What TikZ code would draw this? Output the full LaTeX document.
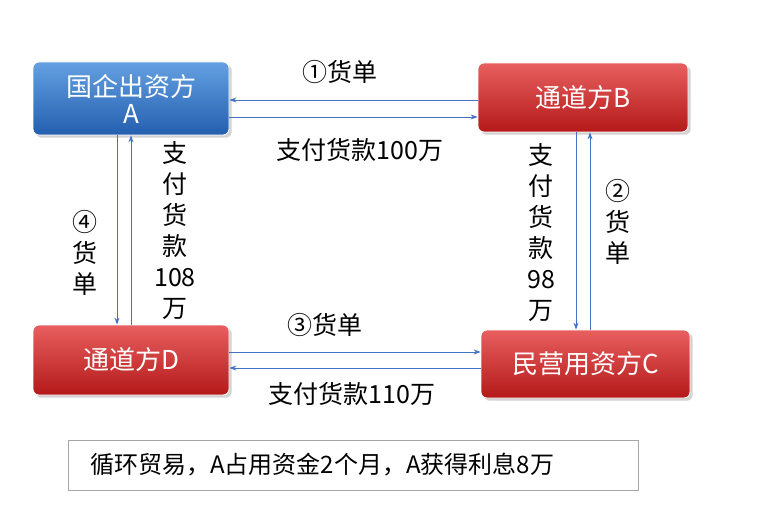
\documentclass[tikz,border=0pt]{standalone}
\usepackage{fontspec}
\setmainfont{Noto Sans CJK SC}
\usetikzlibrary{arrows.meta,shadows}
\definecolor{arr}{RGB}{68,114,196}
\definecolor{rtop}{RGB}{232,95,95}
\definecolor{rbot}{RGB}{180,25,25}
\definecolor{btop}{RGB}{100,160,225}
\definecolor{bbot}{RGB}{35,95,175}
\tikzset{
 box/.style={rounded corners=6pt, draw=white, line width=0.8pt, text=white, align=center, font=\fontsize{26}{27}\selectfont, drop shadow={opacity=0.35}},
 redbox/.style={box, top color=rtop, bottom color=rbot},
 bluebox/.style={box, top color=btop, bottom color=bbot},
 con/.style={draw=arr, line width=0.9pt, -{Stealth[length=7pt,width=5pt]}},
 lab/.style={font=\fontsize{25}{31}\selectfont, align=center, inner sep=0pt}
}
\begin{document}
\begin{tikzpicture}[x=1pt,y=-1pt]
\useasboundingbox (0,0) rectangle (758,508);
\node[bluebox, minimum width=196pt, minimum height=73pt] (A) at (131,98.5) {国企出资方\\A};
\node[redbox, minimum width=210pt, minimum height=69pt] (B) at (583,97.5) {通道方B};
\node[redbox, minimum width=196pt, minimum height=70pt] (D) at (131,360) {通道方D};
\node[redbox, minimum width=209pt, minimum height=68pt] (C) at (585.5,364) {民营用资方C};
% A-B
\draw[con] (B.west |- 0,100) -- (A.east |- 0,100);
\draw[con] (A.east |- 0,117) -- (B.west |- 0,117);
\node[lab] (l1) at (340,72) {①货单};
\node[lab] (l2) at (360,150) {支付货款100万};
% B-C
\draw[con] (B.south -| 576,0) -- (C.north -| 576,0);
\draw[con] (C.north -| 590,0) -- (B.south -| 590,0);
\node[lab] (l3) at (541,233) {支\\付\\货\\款\\98\\万};
\node[lab] (l4) at (618,222) {②\\货\\单};
% C-D
\draw[con] (D.east |- 0,352) -- (C.west |- 0,352);
\draw[con] (C.west |- 0,368) -- (D.east |- 0,368);
\node[lab] (l5) at (325,325) {③货单};
\node[lab] (l6) at (352,394) {支付货款110万};
% D-A
\draw[con] (A.south -| 117,0) -- (D.north -| 117,0);
\draw[con] (D.north -| 131,0) -- (A.south -| 131,0);
\node[lab] (l7) at (85,253) {④\\货\\单};
\node[lab] (l8) at (175,231) {支\\付\\货\\款\\108\\万};
% note
\node[draw=black!35, line width=0.6pt, minimum width=570pt, minimum height=50pt, anchor=west] (N) at (68,465) {};
\node[font=\fontsize{24}{26}\selectfont, anchor=west, inner sep=0pt] (NT) at (90,465) {循环贸易，A占用资金2个月，A获得利息8万};
\end{tikzpicture}
\end{document}
